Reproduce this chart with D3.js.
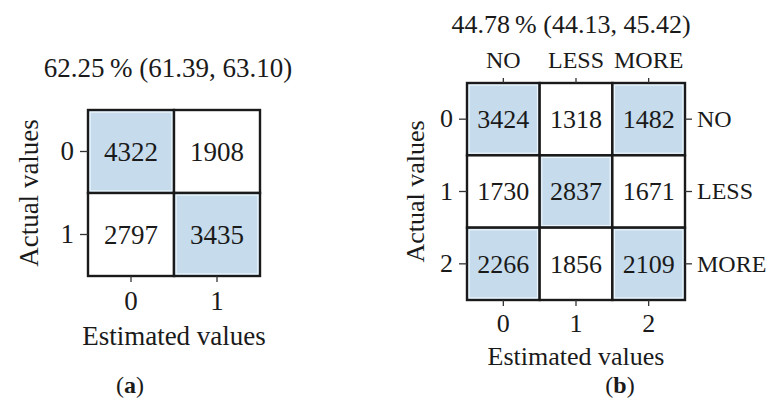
<!DOCTYPE html>
<html>
<head>
<meta charset="utf-8">
<script src="https://cdn.jsdelivr.net/npm/d3@7"></script>
<style>
  html, body { margin: 0; padding: 0; background: #fff; }
  svg text { font-family: "Liberation Serif", "DejaVu Serif", serif; fill: #1a1a1a; }
</style>
</head>
<body>
<svg id="chart" width="769" height="410"></svg>
<script>
// Panel (a): binary classification
const classesA = ["0", "1"];
const countsA = [
  [4322, 1908],
  [2797, 3435]
];
const shadeA = [
  [1, 0],
  [0, 1]
];
const titleA = "62.25\u2009% (61.39, 63.10)";

// Panel (b): three-class classification
const classesB = ["0", "1", "2"];
const namesB = ["NO", "LESS", "MORE"];
const countsB = [
  [3424, 1318, 1482],
  [1730, 2837, 1671],
  [2266, 1856, 2109]
];
const shadeB = [
  [1, 0, 1],
  [0, 1, 0],
  [1, 0, 1]
];
const titleB = "44.78\u2009% (44.13, 45.42)";

const xLabel = "Estimated values";
const yLabel = "Actual values";
const fillOn = "#c6dcec";
const lineColor = "#1a1a1a";

const svg = d3.select("#chart");

function drawMatrix(cfg) {
  const g = svg.append("g");
  const x = d3.scaleBand().domain(cfg.classes).range([cfg.x0, cfg.x1]);
  const y = d3.scaleBand().domain(cfg.classes).range([cfg.y0, cfg.y1]);

  const cells = [];
  cfg.counts.forEach((row, i) => row.forEach((v, j) => {
    cells.push({ r: cfg.classes[i], c: cfg.classes[j], v, on: cfg.shade[i][j] });
  }));

  // cell fills
  g.selectAll("rect.cell").data(cells).enter().append("rect")
    .attr("class", "cell")
    .attr("x", d => x(d.c)).attr("y", d => y(d.r))
    .attr("width", x.bandwidth()).attr("height", y.bandwidth())
    .attr("fill", d => d.on ? fillOn : "#fff")
    .attr("stroke", lineColor).attr("stroke-width", 2.4);

  // light inner edge on shaded cells
  g.selectAll("rect.inner").data(cells.filter(d => d.on)).enter().append("rect")
    .attr("x", d => x(d.c) + 2.2).attr("y", d => y(d.r) + 2.2)
    .attr("width", x.bandwidth() - 4.4).attr("height", y.bandwidth() - 4.4)
    .attr("fill", "none").attr("stroke", "#eef5fa").attr("stroke-width", 1);

  // values
  g.selectAll("text.val").data(cells).enter().append("text")
    .attr("x", d => x(d.c) + x.bandwidth() / 2)
    .attr("y", d => y(d.r) + y.bandwidth() / 2 + cfg.fs * 0.34)
    .attr("text-anchor", "middle")
    .style("font-size", cfg.fs + "px")
    .text(d => d.v);

  // axes
  const styleAxis = (sel, fs) => {
    sel.select(".domain").remove();
    sel.selectAll(".tick line").attr("stroke", "#333").attr("stroke-width", 1.3);
    sel.selectAll(".tick text").style("font-size", (fs || cfg.fs) + "px")
      .attr("fill", "#1a1a1a").style("font-family", "Liberation Serif, serif");
  };

  g.append("g").attr("transform", `translate(${cfg.x0},0)`)
    .call(d3.axisLeft(y).tickSize(8).tickPadding(6))
    .call(styleAxis);
  g.append("g").attr("transform", `translate(0,${cfg.y1})`)
    .call(d3.axisBottom(x).tickSize(6).tickPadding(cfg.bpad))
    .call(styleAxis);

  if (cfg.names) {
    const xn = d3.scaleBand().domain(cfg.names).range([cfg.x0, cfg.x1]);
    const yn = d3.scaleBand().domain(cfg.names).range([cfg.y0, cfg.y1]);
    g.append("g").attr("transform", `translate(0,${cfg.y0})`)
      .call(d3.axisTop(xn).tickSize(5).tickPadding(10))
      .call(styleAxis, 24);
    g.append("g").attr("transform", `translate(${cfg.x1},0)`)
      .call(d3.axisRight(yn).tickSize(7).tickPadding(5))
      .call(styleAxis, 24);
  }

  // titles
  g.append("text").attr("x", cfg.tx).attr("y", cfg.ty)
    .attr("text-anchor", "middle").style("font-size", cfg.fs + "px")
    .text(cfg.title);
  g.append("text").attr("x", (cfg.x0 + cfg.x1) / 2).attr("y", cfg.xly)
    .attr("text-anchor", "middle").style("font-size", cfg.fs + "px")
    .text(xLabel);
  g.append("text")
    .attr("transform", `translate(${cfg.ylx},${(cfg.y0 + cfg.y1) / 2}) rotate(-90)`)
    .attr("text-anchor", "middle").style("font-size", cfg.fs + "px")
    .text(yLabel);

  // panel tag
  const tag = g.append("text").attr("x", cfg.px).attr("y", 393)
    .attr("text-anchor", "middle").style("font-size", "24px");
  tag.append("tspan").text("(");
  tag.append("tspan").style("font-weight", "bold").text(cfg.tag);
  tag.append("tspan").text(")");
}

drawMatrix({
  classes: classesA, counts: countsA, shade: shadeA, title: titleA,
  x0: 88, x1: 260, y0: 110, y1: 276, fs: 27, bpad: 9,
  tx: 168, ty: 77, xly: 345, ylx: 38, px: 130, tag: "a"
});

drawMatrix({
  classes: classesB, counts: countsB, shade: shadeB, title: titleB, names: namesB,
  x0: 467, x1: 685, y0: 83, y1: 300, fs: 26, bpad: 8,
  tx: 571, ty: 33, xly: 365, ylx: 424, px: 620, tag: "b"
});
</script>
</body>
</html>
